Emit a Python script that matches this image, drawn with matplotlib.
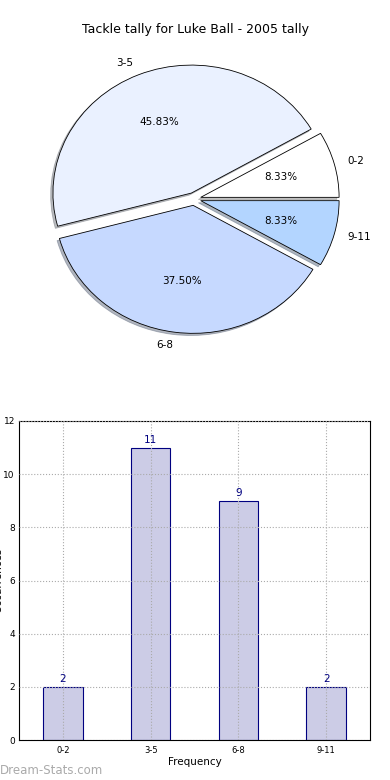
import matplotlib
matplotlib.use("Agg")
import matplotlib.pyplot as plt
import numpy as np

# Data
categories = ["0-2", "3-5", "6-8", "9-11"]
counts = [2, 11, 9, 2]
pie_colors = ["#ffffff", "#eaf1ff", "#c6d9ff", "#b3d5ff"]
explode = [0.05, 0.05, 0.05, 0.05]
y_ticks = [0, 2, 4, 6, 8, 10, 12]

fig = plt.figure(figsize=(3.9, 7.8), dpi=100)

# Pie chart (old style, not equal aspect)
ax1 = fig.add_axes([21 / 390, 1 - 359 / 780, 346 / 390, 320 / 780])
wedges, texts, autotexts = ax1.pie(counts, labels=categories, colors=pie_colors,
                                   explode=explode, autopct="%1.2f%%",
                                   shadow={"ox": -0.012, "oy": -0.012, "shade": 0.5},
                                   startangle=0, labeldistance=1.1, pctdistance=0.6,
                                   wedgeprops=dict(edgecolor="black", linewidth=0.6))
for t in texts + autotexts:
    t.set_fontsize(7.5)
ax1.set_aspect("auto")
ax1.set_xlim(-1.25, 1.25)
ax1.set_ylim(-1.25, 1.25)
ax1.set_axis_off()
fig.text(0.5, 1 - 30 / 780, "Tackle tally for Luke Ball - 2005 tally",
         ha="center", va="center", fontsize=9)

# Bar chart
ax2 = fig.add_axes([19 / 390, 1 - 740 / 780, 351 / 390, 319 / 780])
x = np.arange(len(categories))
bars = ax2.bar(x, counts, width=0.45, color="#ccccE6", edgecolor="#000080", linewidth=0.8)
for xi, c in zip(x, counts):
    ax2.text(xi, c + 0.1, str(c), ha="center", va="bottom", color="#000080", fontsize=7.5)
ax2.set_xlim(-0.5, 3.5)
ax2.set_ylim(0, 12)
ax2.set_yticks(y_ticks)
ax2.set_xticks(x)
ax2.set_xticklabels(categories)
ax2.tick_params(axis="x", labelsize=6, length=0, pad=4)
ax2.tick_params(axis="y", labelsize=6.5, length=0, pad=3)
ax2.grid(True, linestyle=":", color="#aaaaaa", linewidth=0.8)
ax2.set_axisbelow(False)
ax2.set_xlabel("Frequency", fontsize=7.5, labelpad=2)
ax2.set_ylabel("Occurrences", fontsize=7.5)
ax2.yaxis.set_label_coords(-0.045, 0.5)

fig.text(0.0, 1 - 771 / 780, "Dream-Stats.com", ha="left", va="center",
         fontsize=8.5, color="#aaaaaa")

fig.savefig("out.png", dpi=100, facecolor="white")
